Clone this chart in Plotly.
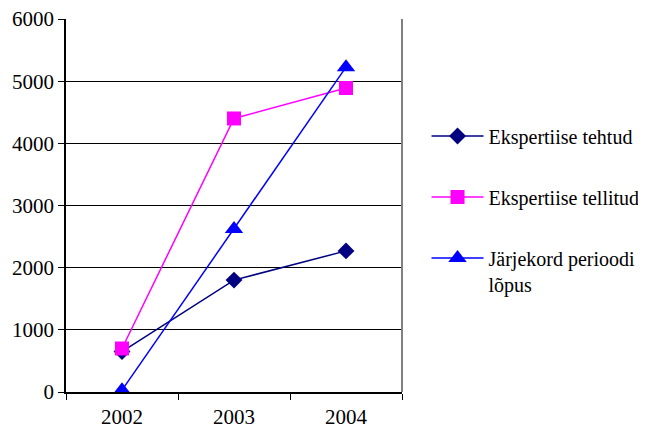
import plotly.graph_objects as go

years = ["2002", "2003", "2004"]
tehtud = [650, 1800, 2270]
tellitud = [700, 4400, 4890]
jarjekord = [30, 2620, 5225]
names = ["Ekspertiise tehtud", "Ekspertiise tellitud", "Järjekord perioodi<br>lõpus"]
yticks = [0, 1000, 2000, 3000, 4000, 5000, 6000]

FONT = "Times New Roman, Liberation Serif, DejaVu Serif, serif"
FS = 21

fig = go.Figure()
fig.add_trace(go.Scatter(x=years, y=tehtud, name=names[0], mode="lines+markers",
                         line=dict(color="#000080", width=1.5),
                         marker=dict(symbol="diamond", size=13, color="#000080"),
                         legendgroup="a"))
fig.add_trace(go.Scatter(x=years, y=tellitud, name=names[1], mode="lines+markers",
                         line=dict(color="#FF00FF", width=1.5),
                         marker=dict(symbol="square", size=14, color="#FF00FF"),
                         legendgroup="b"))
fig.add_trace(go.Scatter(x=years, y=jarjekord, name=names[2], mode="lines+markers",
                         line=dict(color="#0000FF", width=1.5),
                         marker=dict(symbol="triangle-up", size=16, color="#0000FF"),
                         legendgroup="c"))

fig.add_shape(type="line", xref="paper", yref="paper", x0=1, x1=1, y0=0, y1=1,
              line=dict(color="#808080", width=2))

fig.update_layout(
    width=646, height=432,
    margin=dict(l=58, r=252, t=11, b=48, autoexpand=False),
    paper_bgcolor="white", plot_bgcolor="white",
    font=dict(family=FONT, size=FS, color="black"),
    showlegend=True,
    legend=dict(x=1.073, y=0.7386, xanchor="left", yanchor="top",
                tracegroupgap=32, valign="top", itemwidth=52,
                font=dict(family=FONT, size=20)),
    xaxis=dict(type="category", tickson="boundaries", ticks="outside", ticklen=6,
               tickcolor="black", showline=True, linecolor="black", linewidth=1.5,
               showgrid=False, range=[-0.5, 2.5], automargin=False,
               ticklabelstandoff=5, ticklabeloverflow="allow",
               tickfont=dict(family=FONT, size=FS)),
    yaxis=dict(range=[0, 6000], tickvals=yticks, ticks="outside", ticklen=6,
               tickcolor="black", showline=True, linecolor="black", linewidth=1.5,
               showgrid=True, gridcolor="black", gridwidth=1, zeroline=False,
               automargin=False, ticklabeloverflow="allow",
               tickfont=dict(family=FONT, size=FS)),
)

fig.write_html("out.html")
